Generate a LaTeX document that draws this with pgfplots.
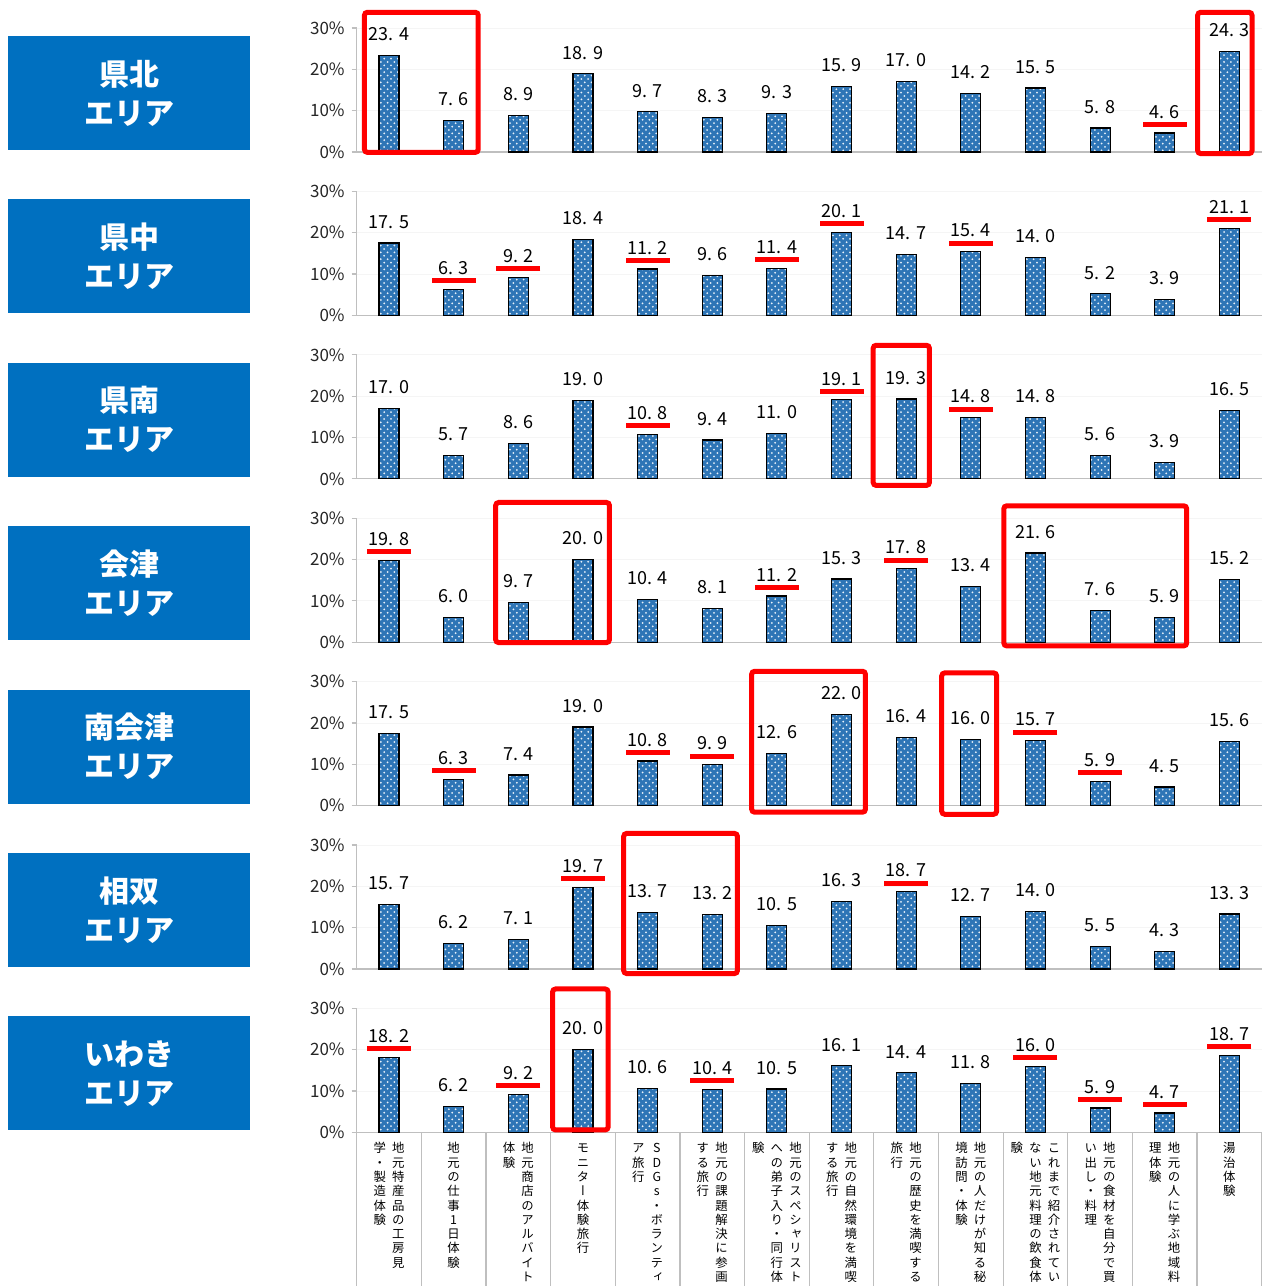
\documentclass[border=0pt]{standalone}
\usepackage{fontspec}
\setmainfont{Noto Sans CJK JP}
\newfontfamily\vfont[RawFeature=+vert]{Noto Sans CJK JP}
\usepackage{pgfplots}
\pgfplotsset{compat=1.18}
\usepackage{pgfplotstable}
\usetikzlibrary{patterns.meta}
\definecolor{barblue}{HTML}{2E75B6}
\definecolor{boxblue}{HTML}{0070C0}
\definecolor{axgray}{HTML}{BFBFBF}
\definecolor{dotwhite}{HTML}{E8F1FA}

% one vertical column of characters, top to bottom
\let\vcend\relax
\newcommand\vc[1]{\vtop{\offinterlineskip\vcloop#1\vcend}}
\def\vcloop#1{\ifx#1\vcend\else\hbox to 1.5em{\hss\raisebox{0pt}[0.9em][0.25em]{#1}\hss}\expandafter\vcloop\fi}

% values in %, one column per area
\pgfplotstableread{
cat p1   p2   p3   p4   p5   p6   p7
1   23.4 17.5 17.0 19.8 17.5 15.7 18.2
2   7.6  6.3  5.7  6.0  6.3  6.2  6.2
3   8.9  9.2  8.6  9.7  7.4  7.1  9.2
4   18.9 18.4 19.0 20.0 19.0 19.7 20.0
5   9.7  11.2 10.8 10.4 10.8 13.7 10.6
6   8.3  9.6  9.4  8.1  9.9  13.2 10.4
7   9.3  11.4 11.0 11.2 12.6 10.5 10.5
8   15.9 20.1 19.1 15.3 22.0 16.3 16.1
9   17.0 14.7 19.3 17.8 16.4 18.7 14.4
10  14.2 15.4 14.8 13.4 16.0 12.7 11.8
11  15.5 14.0 14.8 21.6 15.7 14.0 16.0
12  5.8  5.2  5.6  7.6  5.9  5.5  5.9
13  4.6  3.9  3.9  5.9  4.5  4.3  4.7
14  24.3 21.1 16.5 15.2 15.6 13.3 18.7
}\datatable

\pgfplotsset{
  panel/.style={
    scale only axis, width=452.5pt, height=62pt, anchor=south west,
    xmin=0.5, xmax=14.5, ymin=0, ymax=30, clip=false,
    axis x line*=bottom, axis y line*=left,
    axis line style={draw=axgray, line width=0.6pt},
    xtick=\empty, ytick={0,10,20,30},
    yticklabel={\pgfmathprintnumber{\tick}\%},
    yticklabel style={font=\fontsize{8.5}{10}\selectfont, text=black!85},
    ymajorgrids, grid style={draw=gray!8, line width=0.4pt},
    tick style={draw=axgray, line width=0.6pt},
    major tick length=2.5pt, tick align=outside,
    /pgf/number format/assume math mode=true,
  },
  bars/.style={
    ybar, bar width=10pt, draw=black, line width=0.6pt, fill=barblue,
    postaction={pattern={Dots[distance=3.4pt, radius=0.5pt]}, pattern color=dotwhite},
    postaction={pattern={Dots[distance=3.4pt, radius=0.5pt, xshift=1.7pt, yshift=1.7pt]}, pattern color=dotwhite},
    nodes near coords={\pgfmathprintnumber[fixed,fixed zerofill,precision=1,dec sep={.\kern0.3em}]{\pgfplotspointmeta}},
    every node near coord/.append style={font=\fontsize{9}{10}\selectfont, text=black, inner sep=0pt, anchor=south, yshift=7pt},
  },
  redline/.style={
    only marks, mark=-, mark size=11pt, forget plot,
    mark options={draw=red, line width=2.5pt, yshift=4.3pt},
  },
}
\tikzset{redbox/.style={draw=red, line width=2.5pt, rounded corners=1.5pt}}

\begin{document}
\begin{tikzpicture}
\useasboundingbox (0,0) rectangle (632pt,643pt);

% area boxes on the left
\foreach \name [count=\k from 0] in {県北,県中,県南,会津,南会津,相双,いわき}{
  \fill[boxblue] (4pt,{625pt-81.7pt*\k}) rectangle (125pt,{568pt-81.7pt*\k});
  \node[text=white, font=\bfseries\fontsize{15}{19.5}\selectfont, align=center]
    at (64.5pt,{596.5pt-81.7pt*\k}) {\name\\エリア};
}

% 県北
\begin{axis}[panel, at={(178.35pt,567pt)}]
\addplot[bars] table[x=cat,y=p1]{\datatable};
\addplot[redline] coordinates {(13,4.6)};
\draw[redbox] (axis cs:0.62,-0.1) rectangle (axis cs:2.38,33.8);
\draw[redbox] (axis cs:13.51,-0.4) rectangle (axis cs:14.35,33.8);
\end{axis}

% 県中
\begin{axis}[panel, at={(178.35pt,485.3pt)}]
\addplot[bars] table[x=cat,y=p2]{\datatable};
\addplot[redline] coordinates {(2,6.3) (3,9.2) (5,11.2) (7,11.4) (8,20.1) (10,15.4) (14,21.1)};
\end{axis}

% 県南
\begin{axis}[panel, at={(178.35pt,403.6pt)}]
\addplot[bars] table[x=cat,y=p3]{\datatable};
\addplot[redline] coordinates {(5,10.8) (8,19.1) (10,14.8)};
\draw[redbox] (axis cs:8.49,-1.6) rectangle (axis cs:9.36,32.3);
\end{axis}

% 会津
\begin{axis}[panel, at={(178.35pt,321.9pt)}]
\addplot[bars] table[x=cat,y=p4]{\datatable};
\addplot[redline] coordinates {(1,19.8) (7,11.2) (9,17.8)};
\draw[redbox] (axis cs:2.65,-0.1) rectangle (axis cs:4.41,33.8);
\draw[redbox] (axis cs:10.51,-0.9) rectangle (axis cs:13.34,33.0);
\end{axis}

% 南会津
\begin{axis}[panel, at={(178.35pt,240.2pt)}]
\addplot[bars] table[x=cat,y=p5]{\datatable};
\addplot[redline] coordinates {(2,6.3) (5,10.8) (6,9.9) (11,15.7) (12,5.9)};
\draw[redbox] (axis cs:6.61,-1.6) rectangle (axis cs:8.37,32.5);
\draw[redbox] (axis cs:9.55,-2.1) rectangle (axis cs:10.40,32.1);
\end{axis}

% 相双
\begin{axis}[panel, at={(178.35pt,158.5pt)}]
\addplot[bars] table[x=cat,y=p6]{\datatable};
\addplot[redline] coordinates {(4,19.7) (9,18.7)};
\draw[redbox] (axis cs:4.63,-1.1) rectangle (axis cs:6.39,32.8);
\end{axis}

% いわき
\begin{axis}[panel, at={(178.35pt,76.8pt)},
  xtick={1,...,14}, xtick style={draw=none},
  xticklabel style={anchor=north, inner sep=0pt, yshift=-2pt, text=black,
    font=\vfont\fontsize{6.2}{7}\selectfont},
  xticklabels={
    {\vc{学・製造体験}\vc{地元特産品の工房見}},
    {\vc{地元の仕事1日体験}},
    {\vc{体験}\vc{地元商店のアルバイト}},
    {\vc{モニター体験旅行}},
    {\vc{ア旅行}\vc{SDGs・ボランティ}},
    {\vc{する旅行}\vc{地元の課題解決に参画}},
    {\vc{験}\vc{への弟子入り・同行体}\vc{地元のスペシャリスト}},
    {\vc{する旅行}\vc{地元の自然環境を満喫}},
    {\vc{旅行}\vc{地元の歴史を満喫する}},
    {\vc{境訪問・体験}\vc{地元の人だけが知る秘}},
    {\vc{験}\vc{ない地元料理の飲食体}\vc{これまで紹介されてい}},
    {\vc{い出し・料理}\vc{地元の食材を自分で買}},
    {\vc{理体験}\vc{地元の人に学ぶ地域料}},
    {\vc{湯治体験}}}]
\addplot[bars] table[x=cat,y=p7]{\datatable};
\addplot[redline] coordinates {(1,18.2) (3,9.2) (6,10.4) (11,16.0) (12,5.9) (13,4.7) (14,18.7)};
\draw[redbox] (axis cs:3.53,0.6) rectangle (axis cs:4.39,34.7);
\pgfplotsinvokeforeach{0.5,1.5,2.5,3.5,4.5,5.5,6.5,7.5,8.5,9.5,10.5,11.5,12.5,13.5,14.5}{
  \draw[axgray, line width=0.6pt] (axis cs:#1,0) -- ++(0pt,-77pt);
}
\end{axis}
\end{tikzpicture}
\end{document}
